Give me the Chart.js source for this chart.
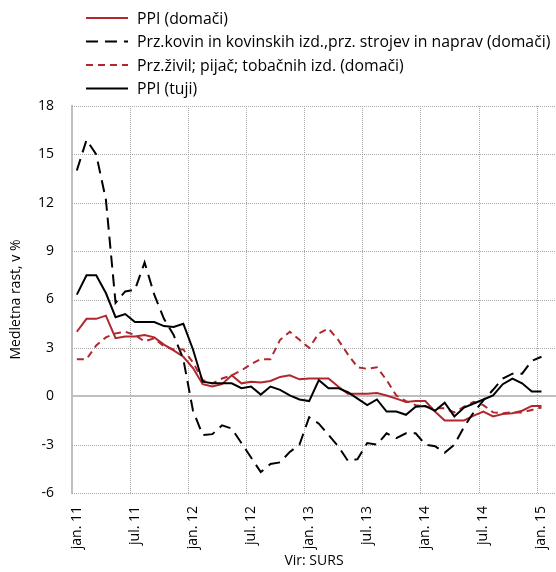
<!DOCTYPE html>
<html>
<head>
<meta charset="utf-8">
<script src="https://cdn.jsdelivr.net/npm/chart.js@4/dist/chart.umd.min.js"></script>
<style>
  html, body { margin: 0; padding: 0; background: #fff; }
  #wrap { width: 556px; height: 572px; position: relative; }
</style>
</head>
<body>
<div id="wrap"><canvas id="myChart" width="556" height="572"></canvas></div>
<script>
// months jan. 11 .. feb. 15 (last one is empty, Excel axis runs a bit past the data)
const months = ["jan", "feb", "mar", "apr", "maj", "jun", "jul", "avg", "sep", "okt", "nov", "dec"];
const labels = [];
for (let i = 0; i < 50; i++) {
  labels.push(months[i % 12] + ". " + (11 + Math.floor(i / 12)));
}

const ppiDomaci = [4.0, 4.8, 4.8, 5.0, 3.6, 3.7, 3.7, 3.8, 3.65, 3.2, 2.85, 2.45,
  1.75, 0.75, 0.6, 0.75, 1.3, 0.8, 0.9, 0.85, 0.95, 1.2, 1.3, 1.05,
  1.1, 1.1, 1.1, 0.6, 0.15, 0.15, 0.15, 0.2, 0.05, -0.15, -0.35, -0.3,
  -0.3, -0.95, -1.5, -1.5, -1.5, -1.2, -0.95, -1.25, -1.1, -1.05, -0.9, -0.6,
  -0.6, null];

const kovine = [14.0, 15.9, 15.0, 12.2, 5.8, 6.5, 6.6, 8.3, 6.3, 4.8, 3.8, 2.3,
  -0.9, -2.4, -2.35, -1.8, -2.0, -2.9, -3.8, -4.7, -4.2, -4.1, -3.45, -3.0,
  -1.3, -1.7, -2.4, -3.1, -4.0, -3.9, -2.9, -3.0, -2.3, -2.6, -2.3, -2.3,
  -3.0, -3.1, -3.5, -3.0, -1.9, -1.0, -0.25, 0.4, 1.1, 1.4, 1.4, 2.2,
  2.45, null];

const zivila = [2.3, 2.3, 3.15, 3.65, 3.9, 4.0, 3.8, 3.4, 3.6, 3.1, 2.9, 2.9,
  2.1, 1.0, 0.8, 1.1, 1.3, 1.6, 2.0, 2.3, 2.3, 3.5, 4.0, 3.5,
  3.0, 3.9, 4.2, 3.5, 2.6, 1.8, 1.7, 1.8, 1.0, 0.05, -0.3, -0.55,
  -0.65, -0.75, -0.75, -1.0, -0.65, -0.35, -0.55, -1.0, -1.05, -1.0, -1.0, -0.85,
  -0.7, null];

const ppiTuji = [6.3, 7.5, 7.5, 6.4, 4.9, 5.1, 4.6, 4.6, 4.6, 4.35, 4.3, 4.5,
  2.9, 0.9, 0.8, 0.8, 0.8, 0.5, 0.6, 0.1, 0.6, 0.4, 0.05, -0.2,
  -0.3, 1.0, 0.5, 0.5, 0.25, -0.15, -0.55, -0.2, -0.95, -0.95, -1.15, -0.65,
  -0.6, -0.9, -0.4, -1.25, -0.7, -0.45, -0.2, 0.05, 0.75, 1.1, 0.8, 0.3,
  0.3, null];

const seriesNames = [
  "PPI (domači)",
  "Prz.kovin in kovinskih izd.,prz. strojev in naprav (domači)",
  "Prz.živil; pijač; tobačnih izd. (domači)",
  "PPI (tuji)"
];

const RED = "#b0272d";
const GRID = "#a8a8a8";
const AXIS = "#bfbfbf";
const FONT = "'Open Sans'";

// dotted grid drawn from the scales (Excel style: every 6th month boundary)
const gridLines = {
  id: "gridLines",
  beforeDatasetsDraw(chart) {
    const { ctx, chartArea: a, scales: { x, y } } = chart;
    ctx.save();
    ctx.strokeStyle = GRID;
    ctx.lineWidth = 1;
    ctx.setLineDash([1, 1]);
    y.ticks.forEach((t) => {
      if (t.value === 0) return;
      const py = Math.round(y.getPixelForValue(t.value)) + 0.5;
      ctx.beginPath();
      ctx.moveTo(a.left, py);
      ctx.lineTo(a.right, py);
      ctx.stroke();
    });
    for (let i = 6; i < labels.length; i += 6) {
      const px = Math.round((x.getPixelForValue(i) + x.getPixelForValue(i - 1)) / 2) + 0.5;
      ctx.beginPath();
      ctx.moveTo(px, a.top);
      ctx.lineTo(px, a.bottom);
      ctx.stroke();
    }
    ctx.setLineDash([]);
    ctx.strokeStyle = AXIS;
    ctx.lineWidth = 2;
    const y0 = Math.round(y.getPixelForValue(0));
    ctx.beginPath();
    ctx.moveTo(a.left, y0);
    ctx.lineTo(a.right, y0);
    ctx.stroke();
    ctx.restore();
  }
};

// legend drawn as one column, like the Excel original
const columnLegend = {
  id: "columnLegend",
  afterDraw(chart) {
    const ctx = chart.ctx;
    ctx.save();
    ctx.font = "15.8px " + FONT;
    ctx.textBaseline = "middle";
    ctx.fillStyle = "#000";
    chart.data.datasets.forEach((ds, i) => {
      const y = 18 + i * 23.5;
      ctx.strokeStyle = ds.borderColor;
      ctx.lineWidth = ds.borderWidth;
      ctx.setLineDash(ds.borderDash || []);
      ctx.beginPath();
      ctx.moveTo(86, y);
      ctx.lineTo(128, y);
      ctx.stroke();
      ctx.setLineDash([]);
      ctx.fillText(ds.label, 137, y + 1);
    });
    ctx.restore();
  }
};

const ctx = document.getElementById("myChart").getContext("2d");
new Chart(ctx, {
  type: "line",
  data: {
    labels: labels,
    datasets: [
      { label: seriesNames[0], data: ppiDomaci, borderColor: RED, borderWidth: 2, order: 3 },
      { label: seriesNames[1], data: kovine, borderColor: "#000", borderWidth: 2, borderDash: [12, 7], order: 2 },
      { label: seriesNames[2], data: zivila, borderColor: RED, borderWidth: 2, borderDash: [7, 5], order: 1 },
      { label: seriesNames[3], data: ppiTuji, borderColor: "#000", borderWidth: 2, order: 0 }
    ]
  },
  options: {
    responsive: false,
    animation: false,
    elements: { point: { radius: 0 }, line: { tension: 0, fill: false } },
    layout: { padding: { top: 106, left: 0, right: 0, bottom: 0 } },
    plugins: {
      legend: { display: false },
      tooltip: { enabled: false }
    },
    scales: {
      x: {
        offset: true,
        grid: { display: false },
        border: { display: false },
        ticks: {
          autoSkip: false,
          minRotation: 90,
          maxRotation: 90,
          padding: 5,
          color: "#000",
          font: { family: "Open Sans", size: 14 },
          callback: function (val, idx) {
            return idx % 6 === 0 && idx < 49 ? labels[idx] : "";
          }
        },
        title: {
          display: true,
          text: "Vir: SURS",
          color: "#000",
          font: { family: "Open Sans", size: 14 },
          padding: { top: 4, bottom: 3 }
        },
        afterFit: (s) => {
          s.height = 79;
          s.paddingLeft = 0;
          s.paddingRight = 0;
        }
      },
      y: {
        min: -6,
        max: 18,
        ticks: {
          stepSize: 3,
          padding: 18,
          color: "#000",
          font: { family: "Open Sans", size: 14 }
        },
        grid: { display: false, drawTicks: false },
        border: { display: true, color: AXIS, width: 2 },
        title: {
          display: true,
          text: "Medletna rast, v %",
          color: "#000",
          font: { family: "Open Sans", size: 14 },
          padding: { top: 8, bottom: 4 }
        },
        afterFit: (s) => { s.width = 72; }
      }
    }
  },
  plugins: [gridLines, columnLegend]
});
</script>
</body>
</html>
